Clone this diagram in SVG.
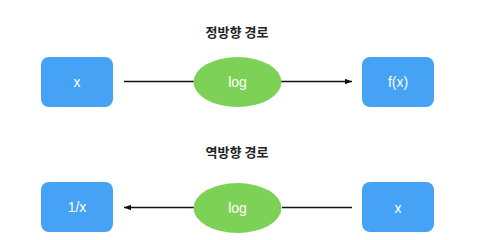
<svg xmlns="http://www.w3.org/2000/svg" width="480" height="240" viewBox="0 0 480 240">
<defs>
<style>
.box{fill:#45A2F5}
.ell{fill:#7ED157}
.lbl{font-family:"Liberation Sans",Arial,sans-serif;font-size:14px;fill:#ffffff;text-anchor:middle;dominant-baseline:central}
.ttl{font-family:"Noto Sans CJK KR",sans-serif;font-size:13px;font-weight:bold;fill:#222;text-anchor:middle}
.edge{stroke:#111;stroke-width:1.3;fill:none}
</style>
<marker id="arr" viewBox="0 0 10 10" refX="10" refY="5" markerWidth="7" markerHeight="7" orient="auto-start-reverse" markerUnits="userSpaceOnUse">
<path d="M0,1 L10,5 L0,9 z" fill="#111"/>
</marker>
</defs>
<rect width="480" height="240" fill="#ffffff"/>
<text class="ttl" x="237" y="37">정방향 경로</text>
<text class="ttl" x="237" y="157">역방향 경로</text>
<g id="connectors">
<line class="edge" x1="124" y1="81.5" x2="194" y2="81.5"/>
<line class="edge" x1="281" y1="81.5" x2="352" y2="81.5" marker-end="url(#arr)"/>
<line class="edge" x1="352" y1="207.5" x2="282" y2="207.5"/>
<line class="edge" x1="194" y1="207.5" x2="124" y2="207.5" marker-end="url(#arr)"/>
</g>
<g id="n_x1"><rect class="box" x="41" y="57" width="72" height="50" rx="8"/><text class="lbl" x="77" y="82">x</text></g>
<g id="n_log1"><ellipse class="ell" cx="237.5" cy="82" rx="44" ry="25"/><text class="lbl" x="237.5" y="82">log</text></g>
<g id="n_fx"><rect class="box" x="362" y="57" width="72" height="50" rx="8"/><text class="lbl" x="398" y="82">f(x)</text></g>
<g id="n_inv"><rect class="box" x="41" y="182" width="72" height="50" rx="8"/><text class="lbl" x="77" y="207">1/x</text></g>
<g id="n_log2"><ellipse class="ell" cx="237.5" cy="208" rx="44" ry="25"/><text class="lbl" x="237.5" y="208">log</text></g>
<g id="n_x2"><rect class="box" x="362" y="182" width="72" height="50" rx="8"/><text class="lbl" x="398" y="208">x</text></g>
</svg>
